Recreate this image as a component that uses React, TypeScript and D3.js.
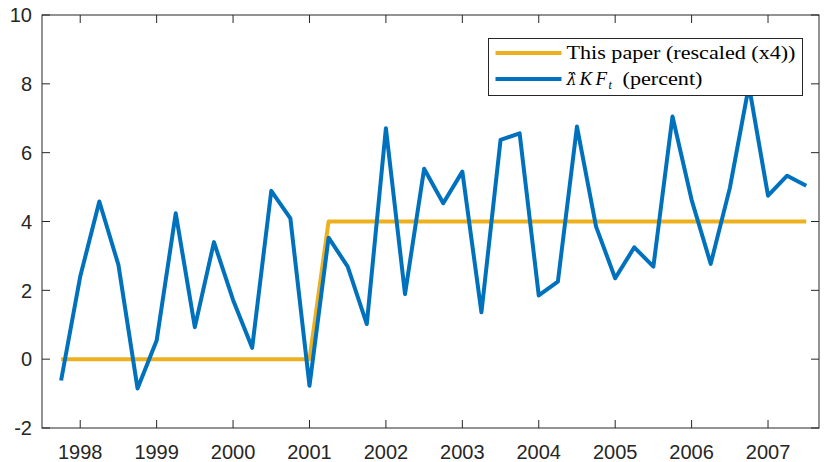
import React, { useEffect, useRef } from "react";
import { select, scaleLinear, line } from "d3";

// quarterly observations, 1997Q4 .. 2007Q3
const quarters = [
  "1997Q4",
  "1998Q1", "1998Q2", "1998Q3", "1998Q4",
  "1999Q1", "1999Q2", "1999Q3", "1999Q4",
  "2000Q1", "2000Q2", "2000Q3", "2000Q4",
  "2001Q1", "2001Q2", "2001Q3", "2001Q4",
  "2002Q1", "2002Q2", "2002Q3", "2002Q4",
  "2003Q1", "2003Q2", "2003Q3", "2003Q4",
  "2004Q1", "2004Q2", "2004Q3", "2004Q4",
  "2005Q1", "2005Q2", "2005Q3", "2005Q4",
  "2006Q1", "2006Q2", "2006Q3", "2006Q4",
  "2007Q1", "2007Q2", "2007Q3",
];

// "This paper (rescaled (x4))"
const paperValues = [
  0, 0, 0, 0, 0, 0, 0, 0, 0, 0, 0, 0, 0, 0,
  4, 4, 4, 4, 4, 4, 4, 4, 4, 4, 4, 4, 4, 4, 4, 4, 4, 4, 4, 4, 4, 4, 4, 4, 4, 4,
];

// lambda-hat KF_t (percent)
const kfValues = [
  -0.62,
  2.4, 4.58, 2.74, -0.85,
  0.54, 4.24, 0.93, 3.4,
  1.72, 0.33, 4.89, 4.09,
  -0.77, 3.53, 2.69, 1.02,
  6.71, 1.89, 5.53, 4.53,
  5.45, 1.36, 6.37, 6.56,
  1.85, 2.25, 6.76, 3.85,
  2.35, 3.25, 2.69, 7.05,
  4.63, 2.77, 4.97, 7.95,
  4.75, 5.33, 5.04,
];

const yearTicks = [1998, 1999, 2000, 2001, 2002, 2003, 2004, 2005, 2006, 2007];
const valueTicks = [-2, 0, 2, 4, 6, 8, 10];

const WIDTH = 824;
const HEIGHT = 462;
const AXIS_COLOR = "#262626";
const ORANGE = "#EDB120";
const BLUE = "#0072BD";

// Q1 falls on the year tick
const quarterToYear = (q: string) => +q.slice(0, 4) + (+q.slice(5) - 1) / 4;

export default function App() {
  const ref = useRef<SVGSVGElement>(null);

  useEffect(() => {
    const svg = select(ref.current);
    svg.selectAll("*").remove();

    const margin = { top: 15, right: 5, bottom: 34, left: 42 };
    const x = scaleLinear().domain([1997.5, 2007.667]).range([margin.left, WIDTH - margin.right]);
    const y = scaleLinear().domain([-2, 10]).range([HEIGHT - margin.bottom, margin.top]);
    const [x0, x1] = x.range();
    const [y0, y1] = y.range();

    const g = svg.append("g");

    // plot box
    g.append("rect")
      .attr("x", x0)
      .attr("y", y1)
      .attr("width", x1 - x0)
      .attr("height", y0 - y1)
      .attr("fill", "white")
      .attr("stroke", AXIS_COLOR)
      .attr("stroke-width", 1);

    const tickLen = 8;
    // x ticks (inward, top and bottom)
    yearTicks.forEach(t => {
      g.append("line").attr("x1", x(t)).attr("x2", x(t)).attr("y1", y0).attr("y2", y0 - tickLen)
        .attr("stroke", AXIS_COLOR);
      g.append("line").attr("x1", x(t)).attr("x2", x(t)).attr("y1", y1).attr("y2", y1 + tickLen)
        .attr("stroke", AXIS_COLOR);
      g.append("text")
        .attr("x", x(t))
        .attr("y", 459)
        .attr("text-anchor", "middle")
        .attr("font-family", "Liberation Sans, Arial, sans-serif")
        .attr("font-size", 20)
        .attr("fill", AXIS_COLOR)
        .text(t);
    });

    // y ticks (inward, left and right)
    valueTicks.forEach(t => {
      g.append("line").attr("x1", x0).attr("x2", x0 + tickLen).attr("y1", y(t)).attr("y2", y(t))
        .attr("stroke", AXIS_COLOR);
      g.append("line").attr("x1", x1).attr("x2", x1 - tickLen).attr("y1", y(t)).attr("y2", y(t))
        .attr("stroke", AXIS_COLOR);
      g.append("text")
        .attr("x", 32)
        .attr("y", y(t))
        .attr("dy", "0.36em")
        .attr("text-anchor", "end")
        .attr("font-family", "Liberation Sans, Arial, sans-serif")
        .attr("font-size", 20)
        .attr("fill", AXIS_COLOR)
        .text(t);
    });

    const path = line<number>()
      .x((_, i) => x(quarterToYear(quarters[i])))
      .y(d => y(d));

    g.append("path")
      .attr("d", path(paperValues))
      .attr("fill", "none")
      .attr("stroke", ORANGE)
      .attr("stroke-width", 4)
      .attr("stroke-linejoin", "round");

    g.append("path")
      .attr("d", path(kfValues))
      .attr("fill", "none")
      .attr("stroke", BLUE)
      .attr("stroke-width", 4)
      .attr("stroke-linejoin", "round");

    // legend
    const legend = g.append("g").attr("transform", "translate(488.5, 38.5)");
    legend.append("rect")
      .attr("width", 314)
      .attr("height", 57)
      .attr("fill", "white")
      .attr("stroke", AXIS_COLOR)
      .attr("stroke-width", 1);

    const items = [
      { color: ORANGE, cy: 14.5 },
      { color: BLUE, cy: 40.5 },
    ];
    items.forEach(it => {
      legend.append("line")
        .attr("x1", 7).attr("x2", 73)
        .attr("y1", it.cy).attr("y2", it.cy)
        .attr("stroke", it.color)
        .attr("stroke-width", 4);
    });

    const serif = "Liberation Serif, Times New Roman, serif";
    legend.append("text")
      .attr("x", 78)
      .attr("y", 20)
      .attr("font-family", serif)
      .attr("font-size", 18)
      .attr("fill", "black")
      .attr("textLength", 229)
      .attr("lengthAdjust", "spacingAndGlyphs")
      .text("This paper (rescaled (x4))");

    const t2 = legend.append("text")
      .attr("y", 46)
      .attr("font-family", serif)
      .attr("font-size", 19)
      .attr("fill", "black");
    t2.append("tspan")
      .attr("x", 78)
      .attr("font-family", "DejaVu Serif")
      .attr("font-size", 16)
      .attr("font-style", "italic")
      .text("λ\u0302");
    t2.append("tspan").attr("x", 91).attr("font-style", "italic").text("K");
    t2.append("tspan").attr("x", 107).attr("font-style", "italic").text("F");
    t2.append("tspan").attr("x", 120).attr("dy", 4).attr("font-style", "italic").attr("font-size", 12).text("t");
    t2.append("tspan")
      .attr("x", 134)
      .attr("dy", -4)
      .attr("textLength", 80)
      .attr("lengthAdjust", "spacingAndGlyphs")
      .text("(percent)");
  }, []);

  return (
    <div style={{ position: "absolute", left: 0, top: 0 }}>
      <svg ref={ref} width={WIDTH} height={HEIGHT} />
    </div>
  );
}
